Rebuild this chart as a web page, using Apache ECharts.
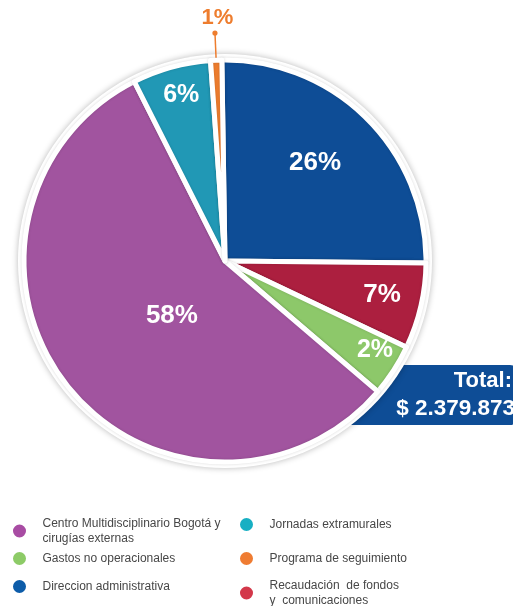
<!DOCTYPE html>
<html>
<head>
<meta charset="utf-8">
<script src="https://cdn.jsdelivr.net/npm/echarts@6/dist/echarts.min.js"></script>
<style>
html,body{margin:0;padding:0;background:#fff;}
#c{width:513px;height:606px;}
</style>
</head>
<body>
<div id="c"></div>
<script>
// ---- data ----
const categories = [
  'Direccion administrativa',
  'Recaudación de fondos y comunicaciones',
  'Gastos no operacionales',
  'Centro Multidisciplinario Bogotá y cirugías externas',
  'Jornadas extramurales',
  'Programa de seguimiento'
];
// slice sizes as drawn in the picture (share of the circle, %)
const shares = [25.4, 6.9, 4.2, 56.3, 6.3, 0.9];
// percentage labels printed on the slices
const shareLabels = ['26%', '7%', '2%', '58%', '6%', '1%'];
const sliceColors = ['#0E4D96', '#AC1F3F', '#8DC86A', '#A1549F', '#2198B5', '#EE7D2E'];
const legendColors = ['#0D5CA9', '#D3384A', '#8DCB67', '#A84CA3', '#17AFC3', '#EF7C32'];
const legendTexts = [
  'Direccion administrativa',
  'Recaudación  de fondos\ny  comunicaciones',
  'Gastos no operacionales',
  'Centro Multidisciplinario Bogotá y\ncirugías externas',
  'Jornadas extramurales',
  'Programa de seguimiento'
];
const totalLabel = 'Total:';
const totalValue = '$ 2.379.873';

// ---- layout/style ----
const CX = 225, CY = 261, R = 201, START = 90.9;
// radial fraction and angle tweak (deg) for each label
const labelPlace = [[0.662, 2.2], [0.799, 0.8], [0.868, 2.2], [0.38, 7.8], [0.854, -0.7], [1.209, -0.75]];
const legendPos = [ // [left, top] for each category (in categories order)
  [11, 578], [238, 578], [11, 550], [11, 516], [238, 516], [238, 550]
];
const FONT = '"Liberation Sans", Arial, sans-serif';

const total = shares.reduce((a, b) => a + b, 0);
function midAngle(i) {
  let cum = 0;
  for (let k = 0; k < i; k++) cum += shares[k];
  return START - 360 * (cum + shares[i] / 2) / total;
}
function polar(angDeg, r) {
  const a = angDeg * Math.PI / 180;
  return [CX + r * Math.cos(a), CY - r * Math.sin(a)];
}
const outsideIdx = 5;
const dotR = 1.135;
const dotPt = polar(midAngle(outsideIdx), R * dotR);

const chart = echarts.init(document.getElementById('c'));

const legends = categories.map((name, i) => ({
  left: legendPos[i][0],
  top: legendPos[i][1],
  orient: 'vertical',
  padding: 0,
  icon: 'circle',
  itemWidth: 36,
  itemHeight: 15,
  selectedMode: false,
  data: [{ name: name, itemStyle: { color: legendColors[i] } }],
  formatter: () => legendTexts[i],
  textStyle: { fontFamily: FONT, fontSize: 12, color: '#474747', lineHeight: 15 }
}));

chart.setOption({
  animation: false,
  legend: legends,
  graphic: [
    { type: 'rect', z: 0, shape: { x: 330, y: 365, width: 188, height: 60, r: 8 }, style: { fill: '#0E4D96' } },
    { type: 'text', z: 1, style: { x: 512, y: 381, text: totalLabel, align: 'right', verticalAlign: 'middle',
        fill: '#fff', font: 'bold 22px ' + FONT } },
    { type: 'text', z: 1, style: { x: 515, y: 409, text: totalValue, align: 'right', verticalAlign: 'middle',
        fill: '#fff', font: 'bold 22.5px ' + FONT } },
    { type: 'circle', z: 10, shape: { cx: dotPt[0], cy: dotPt[1], r: 2.6 }, style: { fill: sliceColors[outsideIdx] } }
  ],
  series: [
    {
      // white backing disk with soft shadow
      type: 'pie',
      z: 4,
      silent: true,
      center: [CX, CY],
      radius: [0, R + 6],
      label: { show: false },
      labelLine: { show: false },
      emphasis: { disabled: true },
      itemStyle: { color: '#fff', shadowBlur: 6, shadowColor: 'rgba(0,0,0,0.28)' },
      data: [{ name: '_ring', value: 1 }],
      legendHoverLink: false
    },
    {
      type: 'pie',
      z: 5,
      center: [CX, CY],
      radius: [0, R],
      startAngle: START,
      clockwise: true,
      avoidLabelOverlap: false,
      itemStyle: {
        borderColor: '#fff',
        borderWidth: 5,
        shadowBlur: 3,
        shadowColor: 'rgba(0,0,0,0.15)'
      },
      label: {
        show: true,
        position: 'inside',
        formatter: p => shareLabels[p.dataIndex],
        color: '#fff',
        fontFamily: FONT,
        fontWeight: 'bold',
        fontSize: 26
      },
      labelLine: { show: false },
      emphasis: { disabled: true },
      labelLayout: function (params) {
        const i = params.dataIndex;
        const pl = labelPlace[i];
        const ang = midAngle(i) + pl[1];
        const p = polar(ang, R * pl[0]);
        const out = { x: p[0], y: p[1], align: 'center', verticalAlign: 'middle' };
        if (i === outsideIdx) {
          out.labelLinePoints = [polar(midAngle(i), R - 4), polar(midAngle(i), R * dotR)];
        }
        return out;
      },
      data: categories.map((name, i) => {
        const d = { name: name, value: shares[i], itemStyle: { color: sliceColors[i] } };
        if (i === outsideIdx) {
          d.label = { position: 'outside', color: sliceColors[i], fontSize: 22 };
          d.labelLine = { show: true, length: 28, length2: 0, lineStyle: { width: 1.5, color: sliceColors[i] } };
        }
        if (i === 2 || i === 4) d.label = { fontSize: 25 };
        return d;
      })
    }
  ]
});
</script>
</body>
</html>
